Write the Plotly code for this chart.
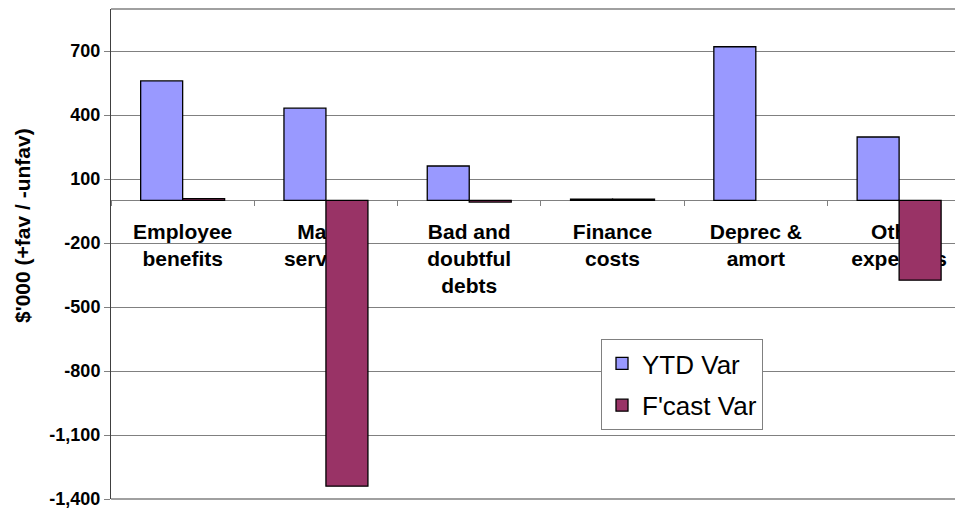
import plotly.graph_objects as go

categories = ["Employee<br>benefits", "Mat &<br>services", "Bad and<br>doubtful<br>debts",
              "Finance<br>costs", "Deprec &<br>amort", "Other<br>expenses"]
ytd_var = [560, 432, 161, 6, 720, 297]
fcast_var = [8, -1340, -8, 6, None, -374]
series_names = ["YTD Var", "F'cast Var"]
y_tickvals = [-1400, -1100, -800, -500, -200, 100, 400, 700]
y_ticktext = ["-1,400", "-1,100", "-800", "-500", "-200", "100", "400", "700"]
y_title = "$'000 (+fav / -unfav)"

YMIN, YMAX = -1400, 897
FONT = "Liberation Sans, Arial, sans-serif"

fig = go.Figure()
fig.add_trace(go.Bar(x=categories, y=ytd_var, name=series_names[0], legendgroup="a",
                     marker=dict(color="#9999FF", line=dict(color="black", width=1.3))))
fig.add_trace(go.Bar(x=categories, y=fcast_var, name=series_names[1], legendgroup="b",
                     marker=dict(color="#993366", line=dict(color="black", width=1.3))))

zero_pos = (0 - YMIN) / (YMAX - YMIN)

fig.update_layout(
    width=955, height=510,
    margin=dict(l=111, r=0, t=9, b=11),
    paper_bgcolor="white", plot_bgcolor="white",
    barmode="group", bargap=0.414, bargroupgap=0,
    font=dict(family=FONT, color="black"),
    xaxis=dict(
        type="category", range=[-0.5, 5.39],
        anchor="free", position=zero_pos,
        showline=True, linecolor="#808080", linewidth=1,
        ticks="outside", ticklen=5, tickcolor="#808080", tickson="boundaries",
        showgrid=False, layer="below traces",
        tickfont=dict(family=FONT, size=21, weight="bold", color="black"),
        ticklabelstandoff=12,
    ),
    yaxis=dict(
        range=[YMIN, YMAX], tickvals=y_tickvals, ticktext=y_ticktext,
        showline=True, linecolor="#404040", linewidth=1,
        ticks="outside", ticklen=6, tickcolor="#808080",
        showgrid=True, gridcolor="#808080", gridwidth=1, zeroline=False,
        tickfont=dict(family=FONT, size=18, weight="bold", color="black"),
    ),
    legend=dict(
        x=(601 - 111) / 844, y=(499 - 339) / 490, xanchor="left", yanchor="top",
        bgcolor="white", bordercolor="#808080", borderwidth=1,
        font=dict(family=FONT, size=26, color="black"),
        tracegroupgap=5, traceorder="grouped",
    ),
    showlegend=True,
)

fig.add_shape(type="line", xref="paper", yref="paper", x0=0, x1=1, y0=1, y1=1,
              line=dict(color="#808080", width=1.5))
fig.add_shape(type="line", xref="paper", yref="paper", x0=0, x1=1, y0=0, y1=0,
              line=dict(color="#808080", width=1.5))

fig.add_annotation(text=y_title, xref="paper", yref="paper",
                   x=(22 - 111) / 844, y=(499 - 226) / 490, textangle=-90,
                   showarrow=False, xanchor="center", yanchor="middle",
                   font=dict(family=FONT, size=21, weight="bold", color="black"))

fig.write_html("out.html")
